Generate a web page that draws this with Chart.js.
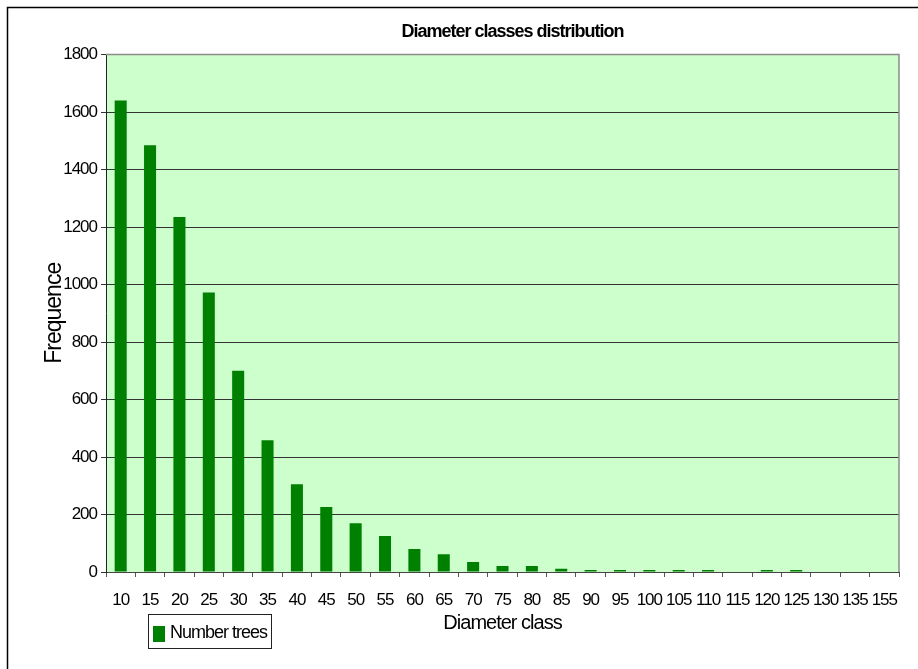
<!DOCTYPE html>
<html>
<head>
<meta charset="utf-8">
<script src="https://cdn.jsdelivr.net/npm/chart.js@4.4.1/dist/chart.umd.min.js"></script>
<style>
  html, body { margin: 0; padding: 0; background: #fff; overflow: hidden; }
  #wrap { width: 918px; height: 669px; }
</style>
</head>
<body>
<div id="wrap"><canvas id="diamChart" width="918" height="669"></canvas></div>
<script>
// diameter classes (x axis)
const diameterClasses = ["10", "15", "20", "25", "30", "35", "40", "45", "50", "55", "60", "65", "70",
  "75", "80", "85", "90", "95", "100", "105", "110", "115", "120", "125", "130", "135", "155"];
// number of trees per class
const numberTrees = [1640, 1485, 1235, 972, 700, 458, 305, 226, 170, 125, 80, 62, 35,
  21, 21, 11, 7, 7, 7, 7, 7, 0, 7, 7, 0, 0, 0];
const yTicks = [0, 200, 400, 600, 800, 1000, 1200, 1400, 1600, 1800];

const fam = "'Liberation Sans', Arial, sans-serif";

// green plot background + grey top/right edges, squeezed text like the original
const plotArea = {
  id: "plotArea",
  beforeDraw(chart) {
    const { ctx, chartArea: a } = chart;
    ctx.letterSpacing = "-1px";
    ctx.save();
    ctx.fillStyle = "#CCFFCC";
    ctx.fillRect(a.left, a.top, a.right - a.left, a.bottom - a.top);
    ctx.restore();
  },
  beforeDatasetsDraw(chart) {
    const { ctx, chartArea: a } = chart;
    ctx.save();
    ctx.strokeStyle = "#8c8c8c";
    ctx.lineWidth = 1.5;
    ctx.beginPath();
    ctx.moveTo(a.left, a.top);
    ctx.lineTo(a.right, a.top);
    ctx.lineTo(a.right, a.bottom);
    ctx.stroke();
    ctx.restore();
  },
  afterLayout(chart) {
    // nudge title a bit to the right like the original
    const t = chart.titleBlock;
    if (t) { t.left += 10; t.right += 10; }
  },
};

// outer frame + boxed legend at bottom left
const frameAndLegend = {
  id: "frameAndLegend",
  afterDraw(chart) {
    const ctx = chart.ctx;
    const ds = chart.data.datasets[0];
    ctx.save();
    ctx.strokeStyle = "#000";
    ctx.lineWidth = 1.5;
    ctx.strokeRect(7.5, 7.5, 1000, 1000);

    ctx.lineWidth = 1;
    ctx.strokeStyle = "#222";
    ctx.strokeRect(148.5, 614.5, 123, 34);
    ctx.fillStyle = ds.backgroundColor;
    ctx.fillRect(153, 626, 12, 16);
    ctx.fillStyle = "#000";
    ctx.font = "18px " + fam;
    ctx.letterSpacing = "-1px";
    ctx.textBaseline = "middle";
    ctx.textAlign = "left";
    ctx.fillText(ds.label, 170, 633);
    ctx.restore();
    ctx.letterSpacing = "0px";
  },
};

const chart = new Chart(document.getElementById("diamChart"), {
  type: "bar",
  data: {
    labels: diameterClasses,
    datasets: [{
      label: "Number trees",
      data: numberTrees,
      backgroundColor: "#008000",
      borderWidth: 0,
      barPercentage: 0.41,
      categoryPercentage: 1.0,
    }],
  },
  options: {
    responsive: false,
    animation: false,
    layout: { padding: { left: 0, right: 19, top: 0, bottom: 0 } },
    plugins: {
      legend: { display: false },
      tooltip: { enabled: false },
      title: {
        display: true,
        text: "Diameter classes distribution",
        fullSize: false,
        color: "#000",
        font: { family: fam, size: 18, weight: "bold", lineHeight: 1.2 },
        padding: { top: 21, bottom: 12 },
      },
    },
    scales: {
      x: {
        afterFit(scale) { scale.height = 97; },
        grid: {
          display: true,
          drawOnChartArea: false,
          drawTicks: true,
          tickLength: 5,
          tickColor: "#555",
        },
        border: { color: "#444", width: 1 },
        ticks: {
          color: "#000",
          padding: 13,
          maxRotation: 0,
          autoSkip: false,
          font: { family: fam, size: 17 },
        },
        title: {
          display: true,
          text: "Diameter class",
          color: "#000",
          font: { family: fam, size: 20, lineHeight: 1.2 },
          padding: { top: 0, bottom: 34 },
        },
      },
      y: {
        min: 0,
        max: 1800,
        afterFit(scale) { scale.width = 106; },
        afterBuildTicks(scale) { scale.ticks = yTicks.map((v) => ({ value: v })); },
        grid: {
          color: (c) => (c.tick && c.tick.value === 1800 ? "#8c8c8c" : "#333"),
          lineWidth: 1,
          drawTicks: true,
          tickLength: 5,
          tickColor: "#333",
        },
        border: { color: "#222", width: 1 },
        ticks: {
          color: "#000",
          padding: 4,
          font: { family: fam, size: 17 },
          callback: (v) => String(v),
        },
        title: {
          display: true,
          text: "Frequence",
          color: "#000",
          font: { family: fam, size: 23, lineHeight: 1.2 },
          padding: { top: 41, bottom: 0 },
        },
      },
    },
  },
  plugins: [plotArea, frameAndLegend],
});
</script>
</body>
</html>
